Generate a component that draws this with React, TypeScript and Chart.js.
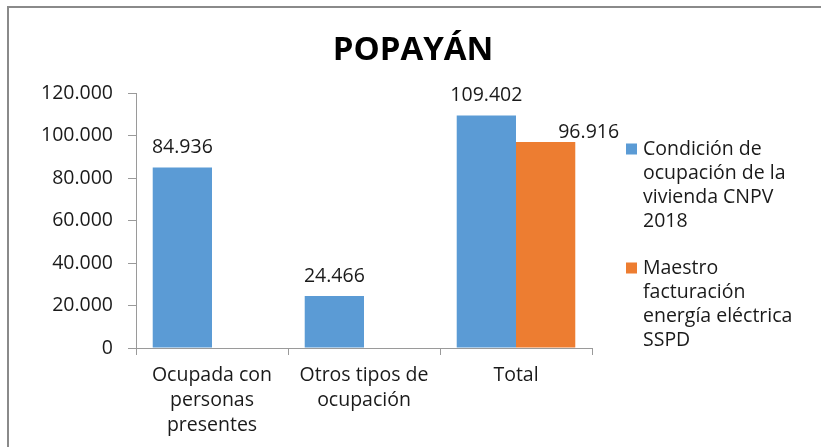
import React, { useEffect, useRef } from "react";
import { Chart, registerables } from "chart.js";

Chart.register(...registerables);

const categories: (string | string[])[] = [
  ["Ocupada con", "personas", "presentes"],
  ["Otros tipos de", "ocupación"],
  "Total",
];
const censoValues: (number | null)[] = [84936, 24466, 109402];
const maestroValues: (number | null)[] = [null, null, 96916];
const seriesNames: string[][] = [
  ["Condición de", "ocupación de la", "vivienda CNPV", "2018"],
  ["Maestro", "facturación", "energía eléctrica", "SSPD"],
];
const titleText = "POPAYÁN";
const yMax = 120000;
const yStep = 20000;

const BLUE = "#5B9BD5";
const ORANGE = "#ED7D31";
const TEXT = "#1a1a1a";
const AXIS = "#9a9a9a";
const FONT = "'Open Sans', 'Noto Sans', sans-serif";
const FS = 19.5;

const fmt = (n: number) =>
  Math.round(n)
    .toString()
    .replace(/\B(?=(\d{3})+(?!\d))/g, ".");

const labelShift = [
  { dx: 0, dy: -20 },
  { dx: 43, dy: -10 },
];

const titlePlugin = {
  id: "ownTitle",
  afterDraw(chart: any) {
    const ctx = chart.ctx;
    ctx.save();
    ctx.font = `bold 33px ${FONT}`;
    ctx.fillStyle = "#000";
    ctx.textAlign = "center";
    ctx.textBaseline = "middle";
    ctx.fillText(titleText, 413, 51);
    ctx.restore();
  },
};

const dataLabelPlugin = {
  id: "dataLabels",
  afterDatasetsDraw(chart: any) {
    const ctx = chart.ctx;
    ctx.save();
    ctx.font = `${FS}px ${FONT}`;
    ctx.fillStyle = TEXT;
    ctx.textAlign = "center";
    ctx.textBaseline = "middle";
    chart.data.datasets.forEach((ds: any, di: number) => {
      const meta = chart.getDatasetMeta(di);
      meta.data.forEach((el: any, i: number) => {
        const v = ds.data[i];
        if (v === null || v === undefined) return;
        const s = labelShift[di] || { dx: 0, dy: -20 };
        ctx.fillText(fmt(v), el.x + s.dx, el.y + s.dy);
      });
    });
    ctx.restore();
  },
};

const legendPlugin = {
  id: "sideLegend",
  afterDraw(chart: any) {
    const ctx = chart.ctx;
    const area = chart.chartArea;
    ctx.save();
    ctx.font = `${FS}px ${FONT}`;
    ctx.fillStyle = TEXT;
    ctx.textAlign = "left";
    ctx.textBaseline = "middle";
    const x0 = area.right + 34;
    let y = 149;
    const lineH = 24;
    chart.data.datasets.forEach((ds: any, di: number) => {
      ctx.fillStyle = ds.backgroundColor;
      ctx.fillRect(x0, y - 5.5, 11, 11);
      ctx.fillStyle = TEXT;
      const lines = seriesNames[di];
      lines.forEach((ln, li) => {
        ctx.fillText(ln, x0 + 17, y + li * lineH);
      });
      y += lines.length * lineH + 23;
    });
    ctx.restore();
  },
};

const framePlugin = {
  id: "frame",
  beforeDraw(chart: any) {
    const ctx = chart.ctx;
    ctx.save();
    ctx.fillStyle = "#ffffff";
    ctx.fillRect(0, 0, chart.width, chart.height);
    ctx.strokeStyle = "#8a8a8a";
    ctx.lineWidth = 2;
    ctx.beginPath();
    ctx.moveTo(8, chart.height + 2);
    ctx.lineTo(8, 7);
    ctx.lineTo(chart.width + 2, 7);
    ctx.stroke();
    ctx.restore();
  },
};

export default function App() {
  const ref = useRef<HTMLCanvasElement | null>(null);
  useEffect(() => {
    if (!ref.current) return;
    const chart = new Chart(ref.current, {
      type: "bar",
      data: {
        labels: categories,
        datasets: [
          {
            label: seriesNames[0].join(" "),
            data: censoValues,
            backgroundColor: BLUE,
            categoryPercentage: 0.78,
            barPercentage: 1,
          },
          {
            label: seriesNames[1].join(" "),
            data: maestroValues,
            backgroundColor: ORANGE,
            categoryPercentage: 0.78,
            barPercentage: 1,
          },
        ],
      },
      options: {
        responsive: false,
        animation: false,
        layout: { padding: { left: 0, right: 229, top: 93, bottom: 0 } },
        plugins: {
          legend: { display: false },
          tooltip: { enabled: false },
          title: { display: false },
        },
        scales: {
          x: {
            grid: {
              display: true,
              drawOnChartArea: false,
              drawTicks: true,
              tickLength: 7,
              color: AXIS,
              offset: true,
            },
            border: { display: true, color: AXIS, width: 1 },
            ticks: {
              color: TEXT,
              font: { family: FONT, size: FS, lineHeight: 25 / FS },
              padding: 8,
              maxRotation: 0,
              autoSkip: false,
            },
            afterFit: (s: any) => {
              s.height = 99;
            },
          },
          y: {
            min: 0,
            max: yMax,
            grid: {
              display: true,
              drawOnChartArea: false,
              drawTicks: true,
              tickLength: 8,
              color: AXIS,
            },
            border: { display: true, color: AXIS, width: 1 },
            ticks: {
              stepSize: yStep,
              color: TEXT,
              font: { family: FONT, size: FS },
              padding: 15,
              callback: (v: any) => fmt(Number(v)),
            },
            afterFit: (s: any) => {
              s.width = 136;
            },
          },
        },
      },
      plugins: [framePlugin, dataLabelPlugin, legendPlugin, titlePlugin],
    } as any);
    return () => chart.destroy();
  }, []);
  return (
    <div style={{ position: "fixed", left: 0, top: 0, width: 821, height: 447, background: "#fff" }}>
      <canvas ref={ref} width={821} height={447} style={{ display: "block", width: 821, height: 447 }} />
    </div>
  );
}
